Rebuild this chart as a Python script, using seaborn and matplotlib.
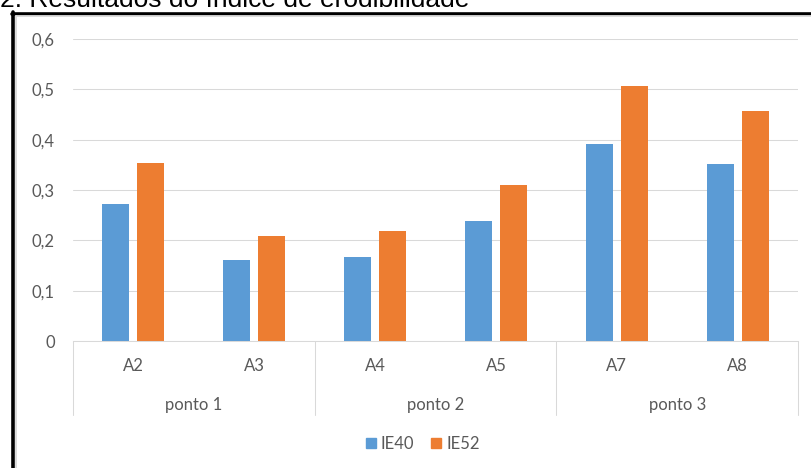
import matplotlib
matplotlib.use("Agg")
import matplotlib.pyplot as plt
import matplotlib.transforms as mtransforms
from matplotlib.lines import Line2D
import seaborn as sns
import pandas as pd

# ---- data ----
categories = ["A2", "A3", "A4", "A5", "A7", "A8"]
groups = ["ponto 1", "ponto 2", "ponto 3"]
series = ["IE40", "IE52"]
ie40 = [0.272, 0.161, 0.167, 0.239, 0.392, 0.352]
ie52 = [0.354, 0.209, 0.219, 0.310, 0.507, 0.457]
yticks = [0, 0.1, 0.2, 0.3, 0.4, 0.5, 0.6]
ytick_labels = ["0", "0,1", "0,2", "0,3", "0,4", "0,5", "0,6"]
title = "2. Resultados do índice de erodibilidade"

colors = ["#5B9BD5", "#ED7D31"]
grey_txt = "#595959"
grid_col = "#D9D9D9"

sns.set_theme(style="white")
plt.rcParams['font.family'] = ['Lato', 'DejaVu Sans']

W, H = 811, 468
fig = plt.figure(figsize=(W / 100, H / 100), dpi=100)
fig.patch.set_facecolor("white")

ax_left, ax_right, ax_bottom, ax_top = 73, 798, 341, 39.2
ax = fig.add_axes([ax_left / W, (H - ax_bottom) / H,
                   (ax_right - ax_left) / W, (ax_bottom - ax_top) / H])

df = pd.DataFrame({
    "cat": categories * 2,
    "serie": [series[0]] * len(categories) + [series[1]] * len(categories),
    "value": ie40 + ie52,
})
sns.barplot(data=df, x="cat", y="value", hue="serie", order=categories,
            hue_order=series, palette=colors, saturation=1, width=0.58,
            gap=0.23, linewidth=0, ax=ax, legend=False, errorbar=None)

ax.set_xlim(-0.5, len(categories) - 0.5)
ax.set_ylim(0, 0.6)
ax.set_yticks(yticks)
ax.set_yticklabels(ytick_labels)
ax.yaxis.grid(True, color=grid_col, linewidth=0.75)
ax.xaxis.grid(False)
ax.set_axisbelow(True)
for s in ["top", "right", "left"]:
    ax.spines[s].set_visible(False)
ax.spines["bottom"].set_color(grid_col)
ax.spines["bottom"].set_linewidth(0.75)
ax.tick_params(axis="y", length=0, pad=13, labelcolor=grey_txt, labelsize=12)
ax.tick_params(axis="x", length=0, pad=12, labelcolor=grey_txt, labelsize=12)
ax.set_xlabel("")
ax.set_ylabel("")

axh = ax_bottom - ax_top
trans = mtransforms.blended_transform_factory(ax.transData, ax.transAxes)
# group labels
for i, g in enumerate(groups):
    ax.text(2 * i + 0.5, -(405 - ax_bottom) / axh, g, transform=trans,
            ha="center", va="center", color=grey_txt, fontsize=12)
# group separators
for x in [-0.5, 1.5, 3.5, 5.5]:
    ax.plot([x, x], [0, -(415 - ax_bottom) / axh], transform=trans,
            clip_on=False, color=grid_col, linewidth=0.75)

# legend
handles = [Line2D([], [], marker="s", linestyle="", markersize=7, color=c)
           for c in colors]
fig.legend(handles=handles, labels=series, loc="center",
           bbox_to_anchor=(422 / W, (H - 444) / H), ncol=2, frameon=False,
           handletextpad=0.2, columnspacing=0.9, handlelength=0.8,
           fontsize=12, labelcolor=grey_txt)

# outer frame (black + grey shadow)
fig.add_artist(Line2D([11.5 / W, 1], [1 - 13.8 / H] * 2, transform=fig.transFigure,
                      color="black", linewidth=2.6))
fig.add_artist(Line2D([15.5 / W, 1], [1 - 16.4 / H] * 2, transform=fig.transFigure,
                      color=grid_col, linewidth=1.3))
fig.add_artist(Line2D([13 / W] * 2, [0, 1 - 12.2 / H], transform=fig.transFigure,
                      color="black", linewidth=2.6))
fig.add_artist(Line2D([16 / W] * 2, [0, 1 - 15.5 / H], transform=fig.transFigure,
                      color=grid_col, linewidth=1.3))

# cut-off caption above the chart (cropped as in the source)
fig.text(0, 1 - 7.3 / H, title, ha="left", va="baseline", color="black",
         fontsize=19, family=["Liberation Sans", "DejaVu Sans"])

fig.savefig("out.png", dpi=100, facecolor="white")
